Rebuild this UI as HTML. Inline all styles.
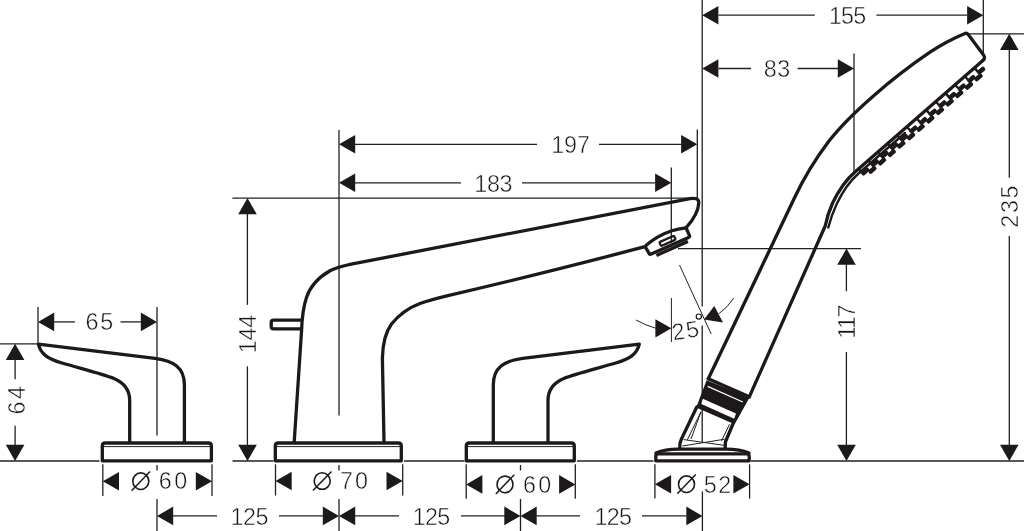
<!DOCTYPE html>
<html><head><meta charset="utf-8"><title>Dimension drawing</title>
<style>
html,body{margin:0;padding:0;background:#fff;}
body{width:1024px;height:531px;overflow:hidden;}
svg{display:block;will-change:transform;}
text{font-family:"Liberation Sans",sans-serif;fill:#161213;stroke:#fff;stroke-width:0.5px;}
</style></head><body>
<svg width="1024" height="531" viewBox="0 0 1024 531">
<rect width="1024" height="531" fill="#fff"/>
<line x1="0" y1="461" x2="99.5" y2="461" stroke="#231f20" stroke-width="1.3" />
<line x1="232.5" y1="461" x2="273.5" y2="461" stroke="#231f20" stroke-width="1.3" />
<line x1="404" y1="461" x2="464.5" y2="461" stroke="#231f20" stroke-width="1.3" />
<line x1="577" y1="461" x2="653.5" y2="461" stroke="#231f20" stroke-width="1.3" />
<line x1="751" y1="461" x2="1024" y2="461" stroke="#231f20" stroke-width="1.3" />
<line x1="0" y1="343.8" x2="37" y2="343.8" stroke="#231f20" stroke-width="1.3" />
<line x1="15.1" y1="359" x2="15.1" y2="379.2" stroke="#231f20" stroke-width="1.3" />
<line x1="15.1" y1="425.7" x2="15.1" y2="445.3" stroke="#231f20" stroke-width="1.3" />
<polygon points="15.10,343.80 5.80,360.00 24.40,360.00" fill="#1d191a"/>
<polygon points="15.10,461.00 5.80,444.80 24.40,444.80" fill="#1d191a"/>
<text transform="translate(24.5 414.59) rotate(-90)" font-size="23.3" letter-spacing="2.57">64</text>
<line x1="38" y1="307" x2="38" y2="343" stroke="#231f20" stroke-width="1.3" />
<line x1="157" y1="307" x2="157" y2="435.5" stroke="#231f20" stroke-width="1.3" />
<line x1="157" y1="465" x2="157" y2="470.5" stroke="#231f20" stroke-width="1.3" />
<line x1="157" y1="499" x2="157" y2="531" stroke="#231f20" stroke-width="1.3" />
<polygon points="38.00,321.90 54.20,312.60 54.20,331.20" fill="#1d191a"/>
<polygon points="157.00,321.90 140.80,312.60 140.80,331.20" fill="#1d191a"/>
<line x1="54" y1="321.9" x2="74.9" y2="321.9" stroke="#231f20" stroke-width="1.3" />
<line x1="120.5" y1="321.9" x2="141" y2="321.9" stroke="#231f20" stroke-width="1.3" />
<text x="85.51" y="330.3" font-size="23.3" letter-spacing="1.78">65</text>
<path d="M129.7,442 L129.7,400.5 C129.7,389.5 124.5,383 114,378.5 C103,374 80,368.3 62,363 C47.5,358.8 40.5,353.8 38.4,344.2 L155,358.4 C173.5,360.8 184.4,367.5 184.4,385 L184.4,442" fill="none" stroke="#1d191a" stroke-width="3.3" stroke-linejoin="round" stroke-linecap="round" />
<path d="M129.7,442 L129.7,400.5 C129.7,389.5 124.5,383 114,378.5 C103,374 80,368.3 62,363 C47.5,358.8 40.5,353.8 38.4,344.2 L155,358.4 C173.5,360.8 184.4,367.5 184.4,385 L184.4,442" fill="none" stroke="#1d191a" stroke-width="3.3" stroke-linejoin="round" stroke-linecap="round" transform="translate(677.7 0) scale(-1 1)"/>
<path d="M102.3,460.8 L102.3,446 Q102.3,443 105.3,443 L208.4,443 Q211.4,443 211.4,446 L211.4,460.8 Z" fill="none" stroke="#1d191a" stroke-width="3.3" stroke-linejoin="round" stroke-linecap="round" fill="#fff"/>
<line x1="103.3" y1="446.6" x2="210.4" y2="446.6" stroke="#231f20" stroke-width="1.0" />
<path d="M275.3,460.8 L275.3,446 Q275.3,443 278.3,443 L398.3,443 Q401.3,443 401.3,446 L401.3,460.8 Z" fill="none" stroke="#1d191a" stroke-width="3.3" stroke-linejoin="round" stroke-linecap="round" fill="#fff"/>
<line x1="276.3" y1="446.6" x2="400.3" y2="446.6" stroke="#231f20" stroke-width="1.0" />
<path d="M466.3,460.8 L466.3,446 Q466.3,443 469.3,443 L571.3,443 Q574.3,443 574.3,446 L574.3,460.8 Z" fill="none" stroke="#1d191a" stroke-width="3.3" stroke-linejoin="round" stroke-linecap="round" fill="#fff"/>
<line x1="467.3" y1="446.6" x2="573.3" y2="446.6" stroke="#231f20" stroke-width="1.0" />
<line x1="102.8" y1="464.3" x2="102.8" y2="496" stroke="#231f20" stroke-width="1.3" />
<line x1="212" y1="464.3" x2="212" y2="496" stroke="#231f20" stroke-width="1.3" />
<polygon points="102.80,481.20 119.00,471.90 119.00,490.50" fill="#1d191a"/>
<polygon points="212.00,481.20 195.80,471.90 195.80,490.50" fill="#1d191a"/>
<ellipse cx="140.8" cy="481.2" rx="8.0" ry="8.3" fill="none" stroke="#1d191a" stroke-width="1.6"/>
<line x1="131.60000000000002" y1="490.8" x2="150.0" y2="471.59999999999997" stroke="#1d191a" stroke-width="1.5"/>
<text x="158.71" y="489.3" font-size="23.3" letter-spacing="2.51">60</text>
<line x1="275.5" y1="464.3" x2="275.5" y2="495.6" stroke="#231f20" stroke-width="1.3" />
<line x1="402.7" y1="464.3" x2="402.7" y2="495.6" stroke="#231f20" stroke-width="1.3" />
<polygon points="275.50,481.00 291.70,471.70 291.70,490.30" fill="#1d191a"/>
<polygon points="402.70,481.00 386.50,471.70 386.50,490.30" fill="#1d191a"/>
<ellipse cx="322.2" cy="481" rx="8.0" ry="8.3" fill="none" stroke="#1d191a" stroke-width="1.6"/>
<line x1="313.0" y1="490.6" x2="331.4" y2="471.4" stroke="#1d191a" stroke-width="1.5"/>
<text x="339.91" y="489.2" font-size="23.3" letter-spacing="2.21">70</text>
<line x1="466.2" y1="464.3" x2="466.2" y2="498.8" stroke="#231f20" stroke-width="1.3" />
<line x1="575.3" y1="464.3" x2="575.3" y2="498.8" stroke="#231f20" stroke-width="1.3" />
<polygon points="466.20,484.40 482.40,475.10 482.40,493.70" fill="#1d191a"/>
<polygon points="575.30,484.40 559.10,475.10 559.10,493.70" fill="#1d191a"/>
<ellipse cx="505" cy="484.4" rx="8.0" ry="8.3" fill="none" stroke="#1d191a" stroke-width="1.6"/>
<line x1="495.8" y1="494.0" x2="514.2" y2="474.79999999999995" stroke="#1d191a" stroke-width="1.5"/>
<text x="523.11" y="492.6" font-size="23.3" letter-spacing="2.21">60</text>
<line x1="654.9" y1="464.3" x2="654.9" y2="498.6" stroke="#231f20" stroke-width="1.3" />
<line x1="749.6" y1="464.3" x2="749.6" y2="498.6" stroke="#231f20" stroke-width="1.3" />
<polygon points="654.90,484.20 671.10,474.90 671.10,493.50" fill="#1d191a"/>
<polygon points="749.60,484.20 733.40,474.90 733.40,493.50" fill="#1d191a"/>
<ellipse cx="686.5" cy="484.2" rx="8.0" ry="8.3" fill="none" stroke="#1d191a" stroke-width="1.6"/>
<line x1="677.3" y1="493.8" x2="695.7" y2="474.59999999999997" stroke="#1d191a" stroke-width="1.5"/>
<text x="703.87" y="493" font-size="23.3" letter-spacing="1.51">52</text>
<polygon points="157.00,515.90 173.20,506.60 173.20,525.20" fill="#1d191a"/>
<line x1="173" y1="515.9" x2="217" y2="515.9" stroke="#231f20" stroke-width="1.3" />
<text x="230.53" y="524.5" font-size="23.3" letter-spacing="-0.45">125</text>
<line x1="279" y1="515.9" x2="323" y2="515.9" stroke="#231f20" stroke-width="1.3" />
<polygon points="339.00,515.90 322.80,506.60 322.80,525.20" fill="#1d191a"/>
<polygon points="339.00,515.90 355.20,506.60 355.20,525.20" fill="#1d191a"/>
<line x1="355" y1="515.9" x2="399" y2="515.9" stroke="#231f20" stroke-width="1.3" />
<text x="412.83" y="524.5" font-size="23.3" letter-spacing="-0.75">125</text>
<line x1="461" y1="515.9" x2="505" y2="515.9" stroke="#231f20" stroke-width="1.3" />
<polygon points="520.50,515.90 504.30,506.60 504.30,525.20" fill="#1d191a"/>
<polygon points="520.50,515.90 536.70,506.60 536.70,525.20" fill="#1d191a"/>
<line x1="536" y1="515.9" x2="580" y2="515.9" stroke="#231f20" stroke-width="1.3" />
<text x="594.53" y="524.5" font-size="23.3" letter-spacing="-0.70">125</text>
<line x1="642" y1="515.9" x2="686.5" y2="515.9" stroke="#231f20" stroke-width="1.3" />
<polygon points="702.50,515.90 686.30,506.60 686.30,525.20" fill="#1d191a"/>
<line x1="339" y1="130" x2="339" y2="415.5" stroke="#231f20" stroke-width="1.3" />
<line x1="339" y1="465" x2="339" y2="470.5" stroke="#231f20" stroke-width="1.3" />
<line x1="339" y1="499" x2="339" y2="531" stroke="#231f20" stroke-width="1.3" />
<line x1="520.5" y1="465" x2="520.5" y2="470.5" stroke="#231f20" stroke-width="1.3" />
<line x1="520.5" y1="499" x2="520.5" y2="531" stroke="#231f20" stroke-width="1.3" />
<line x1="232.4" y1="198.1" x2="697.5" y2="198.1" stroke="#231f20" stroke-width="1.3" />
<line x1="247.4" y1="214" x2="247.4" y2="304.9" stroke="#231f20" stroke-width="1.3" />
<line x1="247.4" y1="366.3" x2="247.4" y2="445" stroke="#231f20" stroke-width="1.3" />
<polygon points="247.50,198.10 238.20,214.30 256.80,214.30" fill="#1d191a"/>
<polygon points="247.50,461.00 238.20,444.80 256.80,444.80" fill="#1d191a"/>
<text transform="translate(256.3 353.17) rotate(-90)" font-size="23.3" letter-spacing="-0.20">144</text>
<polygon points="339.00,144.30 355.20,135.00 355.20,153.60" fill="#1d191a"/>
<line x1="355" y1="144.3" x2="537" y2="144.3" stroke="#231f20" stroke-width="1.3" />
<line x1="599" y1="144.3" x2="681" y2="144.3" stroke="#231f20" stroke-width="1.3" />
<polygon points="697.30,144.30 681.10,135.00 681.10,153.60" fill="#1d191a"/>
<text x="551.23" y="153.1" font-size="23.3" letter-spacing="-0.11">197</text>
<line x1="697.3" y1="129.5" x2="697.3" y2="198" stroke="#231f20" stroke-width="1.3" />
<polygon points="339.00,182.80 355.20,173.50 355.20,192.10" fill="#1d191a"/>
<line x1="355" y1="182.8" x2="461" y2="182.8" stroke="#231f20" stroke-width="1.3" />
<line x1="522" y1="182.8" x2="655" y2="182.8" stroke="#231f20" stroke-width="1.3" />
<polygon points="671.30,182.80 655.10,173.50 655.10,192.10" fill="#1d191a"/>
<text x="474.33" y="191.8" font-size="23.3" letter-spacing="-0.38">183</text>
<line x1="671.3" y1="167.5" x2="671.3" y2="243" stroke="#231f20" stroke-width="1.3" />
<path d="M294.2,442 L301.6,330 C302,318 303,308 306.5,297.5 C310,287 318,277.5 330,270.7 C336,267.6 342,266.3 350,264.4 L690,198.6 C695,197.8 698.7,198.6 698.8,202.5 C698.6,210 694,219 686,227.8 C676,228.8 666,232 657.5,237.2 C651.5,241 647.6,243.8 645,246.7 Q540,274.3 449,295.3 C436,298.4 428,300.5 420,303.5 C408,308 398,316 391.5,324 C386,331.5 382.8,342 382.4,358 L384,442" fill="none" stroke="#1d191a" stroke-width="3.3" stroke-linejoin="round" stroke-linecap="round" />
<path d="M301.5,320.2 L273.5,320.2 Q271.2,320.2 271.2,322.5 L271.2,326.6 Q271.2,328.9 273.5,328.9 L301,328.9" fill="none" stroke="#1d191a" stroke-width="3.3" stroke-linejoin="round" stroke-linecap="round" />
<g transform="translate(668.6 242.3) rotate(-24)">
<path d="M-23.3,-5.6 L-22.3,2.2 Q-22.2,3.7 -20.7,3.7 L20.2,3.7 Q21.8,3.7 21.8,2.2 L21.8,-6.2" fill="none" stroke="#1d191a" stroke-width="3.3" stroke-linejoin="round" stroke-linecap="round" />
<line x1="-16.5" y1="7.0" x2="18" y2="7.0" stroke="#1d191a" stroke-width="3.3"/>
<rect x="-8.4" y="-3.9" width="16" height="4.3" rx="1.4" fill="none" stroke="#1d191a" stroke-width="2.3"/>
</g>
<line x1="702.2" y1="0" x2="702.2" y2="306.5" stroke="#231f20" stroke-width="1.3" />
<line x1="702.2" y1="325.5" x2="702.2" y2="442" stroke="#231f20" stroke-width="1.3" />
<line x1="702.4" y1="491.4" x2="702.4" y2="531" stroke="#231f20" stroke-width="1.3" />
<polygon points="702.20,15.20 718.40,5.90 718.40,24.50" fill="#1d191a"/>
<line x1="718.5" y1="15.2" x2="814.8" y2="15.2" stroke="#231f20" stroke-width="1.3" />
<line x1="876.4" y1="15.2" x2="967" y2="15.2" stroke="#231f20" stroke-width="1.3" />
<polygon points="983.30,15.20 967.10,5.90 967.10,24.50" fill="#1d191a"/>
<text x="829.03" y="23.8" font-size="23.3" letter-spacing="-0.85">155</text>
<line x1="983.3" y1="0" x2="983.3" y2="56" stroke="#231f20" stroke-width="1.3" />
<polygon points="702.20,68.50 718.40,59.20 718.40,77.80" fill="#1d191a"/>
<line x1="718.5" y1="68.5" x2="751" y2="68.5" stroke="#231f20" stroke-width="1.3" />
<line x1="797.7" y1="68.5" x2="838" y2="68.5" stroke="#231f20" stroke-width="1.3" />
<polygon points="854.00,68.50 837.80,59.20 837.80,77.80" fill="#1d191a"/>
<text x="763.70" y="76.6" font-size="23.3" letter-spacing="0.64">83</text>
<line x1="854" y1="53.6" x2="854" y2="174" stroke="#231f20" stroke-width="1.3" />
<line x1="966" y1="33.8" x2="1024" y2="33.8" stroke="#231f20" stroke-width="1.3" />
<polygon points="1009.30,33.80 1000.00,50.00 1018.60,50.00" fill="#1d191a"/>
<polygon points="1009.30,461.00 1000.00,444.80 1018.60,444.80" fill="#1d191a"/>
<line x1="1009.3" y1="49" x2="1009.3" y2="177.8" stroke="#231f20" stroke-width="1.3" />
<line x1="1009.3" y1="236" x2="1009.3" y2="445" stroke="#231f20" stroke-width="1.3" />
<text transform="translate(1018.4 227.66) rotate(-90)" font-size="23.3" letter-spacing="1.60">235</text>
<line x1="678" y1="248.6" x2="861" y2="248.6" stroke="#231f20" stroke-width="1.3" />
<polygon points="846.50,248.60 837.20,264.80 855.80,264.80" fill="#1d191a"/>
<polygon points="846.50,461.00 837.20,444.80 855.80,444.80" fill="#1d191a"/>
<line x1="846.4" y1="264" x2="846.4" y2="291.2" stroke="#231f20" stroke-width="1.3" />
<line x1="846.4" y1="352" x2="846.4" y2="445" stroke="#231f20" stroke-width="1.3" />
<text transform="translate(855 338.67) rotate(-90)" font-size="23.3" letter-spacing="-1.51">117</text>
<line x1="679.5" y1="265" x2="711.2" y2="334" stroke="#231f20" stroke-width="1.0" />
<line x1="671.4" y1="298" x2="671.4" y2="342" stroke="#231f20" stroke-width="1.0" />
<polygon points="671.4,328.3 655.4,319.3 655.4,337.4" fill="#1d191a"/>
<path d="M636,320 Q646,325.5 655.6,328.2" fill="none" stroke="#231f20" stroke-width="1"/>
<polygon points="704,319.4 714.3,306 723,322.5" fill="#1d191a"/>
<path d="M718.6,314 Q728,307 733.8,298" fill="none" stroke="#231f20" stroke-width="1"/>
<text x="673.2" y="340.6" font-size="23.3" letter-spacing="1.3" transform="rotate(-9 673.2 340.6)">25</text>
<circle cx="698.8" cy="316.6" r="2.6" fill="none" stroke="#1d191a" stroke-width="1.2"/>
<path d="M708.3,378.8 L794.4,198 C804,177.5 815,159.5 829,141 C850,114 892,78 930,52.2 C943,43.5 954,38 964.4,33.7 Q966.8,32.6 968.2,34.6 L983.6,55 Q985.6,58.2 982.9,60.5 " fill="none" stroke="#1d191a" stroke-width="3.3" stroke-linejoin="round" stroke-linecap="round" />
<path d="M982.9,60.5 L855,171.9 C845.6,180 838.3,191 832.6,203 C828.8,211.5 826.6,218.8 825.2,226 L749.3,396.8 " fill="none" stroke="#1d191a" stroke-width="3.3" stroke-linejoin="round" stroke-linecap="round" />
<path d="M708.3,378.8 L749.3,396.8" fill="none" stroke="#1d191a" stroke-width="3.3" stroke-linejoin="round" stroke-linecap="round" />
<path d="M905,133 L858,174 C849.6,181.4 842.4,192 836.8,203.8 C833.2,211.6 830.4,219.2 828.3,227.5" fill="none" stroke="#1d191a" stroke-width="2.4" stroke-linecap="round"/>
<rect x="-4.50" y="-2.30" width="9.0" height="4.6" rx="1.6" transform="translate(981.1 70.6) rotate(138.9)" fill="#1d191a"/>
<rect x="-4.50" y="-2.30" width="9.0" height="4.6" rx="1.6" transform="translate(978.5 77.4) rotate(138.9)" fill="#1d191a"/>
<line x1="974.5" y1="67.9" x2="978.4" y2="72.4" stroke="#1d191a" stroke-width="2.4"/>
<rect x="-4.50" y="-2.30" width="9.0" height="4.6" rx="1.6" transform="translate(971.4 79.0) rotate(138.9)" fill="#1d191a"/>
<rect x="-4.50" y="-2.30" width="9.0" height="4.6" rx="1.6" transform="translate(968.9 85.8) rotate(138.9)" fill="#1d191a"/>
<line x1="964.8" y1="76.3" x2="968.7" y2="80.8" stroke="#1d191a" stroke-width="2.4"/>
<rect x="-4.50" y="-2.30" width="9.0" height="4.6" rx="1.6" transform="translate(961.8 87.4) rotate(138.9)" fill="#1d191a"/>
<rect x="-4.50" y="-2.30" width="9.0" height="4.6" rx="1.6" transform="translate(959.2 94.2) rotate(138.9)" fill="#1d191a"/>
<line x1="955.2" y1="84.7" x2="959.1" y2="89.2" stroke="#1d191a" stroke-width="2.4"/>
<rect x="-4.50" y="-2.30" width="9.0" height="4.6" rx="1.6" transform="translate(952.1 95.8) rotate(138.9)" fill="#1d191a"/>
<rect x="-4.50" y="-2.30" width="9.0" height="4.6" rx="1.6" transform="translate(949.6 102.6) rotate(138.9)" fill="#1d191a"/>
<line x1="945.5" y1="93.1" x2="949.4" y2="97.6" stroke="#1d191a" stroke-width="2.4"/>
<rect x="-4.50" y="-2.30" width="9.0" height="4.6" rx="1.6" transform="translate(942.5 104.2) rotate(138.9)" fill="#1d191a"/>
<rect x="-4.50" y="-2.30" width="9.0" height="4.6" rx="1.6" transform="translate(939.9 111.1) rotate(138.9)" fill="#1d191a"/>
<line x1="935.8" y1="101.5" x2="939.8" y2="106.0" stroke="#1d191a" stroke-width="2.4"/>
<rect x="-4.50" y="-2.30" width="9.0" height="4.6" rx="1.6" transform="translate(932.8 112.6) rotate(138.9)" fill="#1d191a"/>
<rect x="-4.50" y="-2.30" width="9.0" height="4.6" rx="1.6" transform="translate(930.3 119.5) rotate(138.9)" fill="#1d191a"/>
<line x1="926.2" y1="109.9" x2="930.1" y2="114.4" stroke="#1d191a" stroke-width="2.4"/>
<rect x="-4.50" y="-2.30" width="9.0" height="4.6" rx="1.6" transform="translate(923.2 121.0) rotate(138.9)" fill="#1d191a"/>
<rect x="-4.50" y="-2.30" width="9.0" height="4.6" rx="1.6" transform="translate(920.6 127.9) rotate(138.9)" fill="#1d191a"/>
<line x1="916.5" y1="118.3" x2="920.5" y2="122.8" stroke="#1d191a" stroke-width="2.4"/>
<rect x="-4.50" y="-2.30" width="9.0" height="4.6" rx="1.6" transform="translate(913.5 129.4) rotate(138.9)" fill="#1d191a"/>
<rect x="-4.50" y="-2.30" width="9.0" height="4.6" rx="1.6" transform="translate(911.0 136.3) rotate(138.9)" fill="#1d191a"/>
<line x1="906.9" y1="126.7" x2="910.8" y2="131.2" stroke="#1d191a" stroke-width="2.4"/>
<rect x="-4.50" y="-2.30" width="9.0" height="4.6" rx="1.6" transform="translate(903.9 137.8) rotate(138.9)" fill="#1d191a"/>
<rect x="-4.50" y="-2.30" width="9.0" height="4.6" rx="1.6" transform="translate(901.3 144.7) rotate(138.9)" fill="#1d191a"/>
<line x1="897.2" y1="135.1" x2="901.2" y2="139.6" stroke="#1d191a" stroke-width="2.4"/>
<rect x="-4.50" y="-2.30" width="9.0" height="4.6" rx="1.6" transform="translate(894.2 146.2) rotate(138.9)" fill="#1d191a"/>
<rect x="-4.50" y="-2.30" width="9.0" height="4.6" rx="1.6" transform="translate(891.7 153.1) rotate(138.9)" fill="#1d191a"/>
<line x1="887.6" y1="143.5" x2="891.5" y2="148.0" stroke="#1d191a" stroke-width="2.4"/>
<rect x="-4.50" y="-2.30" width="9.0" height="4.6" rx="1.6" transform="translate(884.5 154.6) rotate(138.9)" fill="#1d191a"/>
<rect x="-4.50" y="-2.30" width="9.0" height="4.6" rx="1.6" transform="translate(882.0 161.5) rotate(138.9)" fill="#1d191a"/>
<line x1="877.9" y1="151.9" x2="881.9" y2="156.4" stroke="#1d191a" stroke-width="2.4"/>
<rect x="-4.50" y="-2.30" width="9.0" height="4.6" rx="1.6" transform="translate(874.9 163.1) rotate(138.9)" fill="#1d191a"/>
<rect x="-4.50" y="-2.30" width="9.0" height="4.6" rx="1.6" transform="translate(872.4 169.9) rotate(138.9)" fill="#1d191a"/>
<line x1="868.3" y1="160.3" x2="872.2" y2="164.9" stroke="#1d191a" stroke-width="2.4"/>
<rect x="-4.50" y="-2.30" width="9.0" height="4.6" rx="1.6" transform="translate(865.2 171.5) rotate(138.9)" fill="#1d191a"/>
<line x1="858.6" y1="168.7" x2="862.6" y2="173.3" stroke="#1d191a" stroke-width="2.4"/>
<polygon points="706.6,380.3 749.6,397.4 734.6,424.2 696.2,407.6" fill="#1d191a"/>
<line x1="707.7" y1="386.4" x2="742.8" y2="402" stroke="#fff" stroke-width="1.2"/>
<polygon points="702.8,398.8 736,413.6 734.2,418.7 701.3,404" fill="#fff"/>
<path d="M696.8,407 L681.2,439.5 Q679.6,443 679.8,447.5" fill="none" stroke="#1d191a" stroke-width="3.3" stroke-linejoin="round" stroke-linecap="round" />
<path d="M733.3,423 L725.4,442 L725.2,447.5" fill="none" stroke="#1d191a" stroke-width="3.3" stroke-linejoin="round" stroke-linecap="round" />
<line x1="701" y1="411.8" x2="687.3" y2="439.8" stroke="#231f20" stroke-width="1.0" />
<line x1="701" y1="411.8" x2="691" y2="439" stroke="#231f20" stroke-width="1.0" />
<line x1="729.5" y1="424.2" x2="721.5" y2="441" stroke="#231f20" stroke-width="1.0" />
<line x1="683.6" y1="439.6" x2="724.6" y2="445.4" stroke="#231f20" stroke-width="1.0" />
<line x1="682.3" y1="446" x2="724.6" y2="439.2" stroke="#231f20" stroke-width="1.0" />
<path d="M656,453 Q665,449.3 678,449.2 L726,449.2 Q740,449.3 749,453" fill="none" stroke="#1d191a" stroke-width="3.3" stroke-linejoin="round" stroke-linecap="round" fill="#fff"/>
<path d="M655.8,460.8 L655.8,456.2 Q655.8,453.8 658.2,453.8 L746.8,453.8 Q749.2,453.8 749.2,456.2 L749.2,460.8 Z" fill="none" stroke="#1d191a" stroke-width="3.3" stroke-linejoin="round" stroke-linecap="round" fill="#fff" stroke-width="2.2"/>
</svg>
</body></html>
